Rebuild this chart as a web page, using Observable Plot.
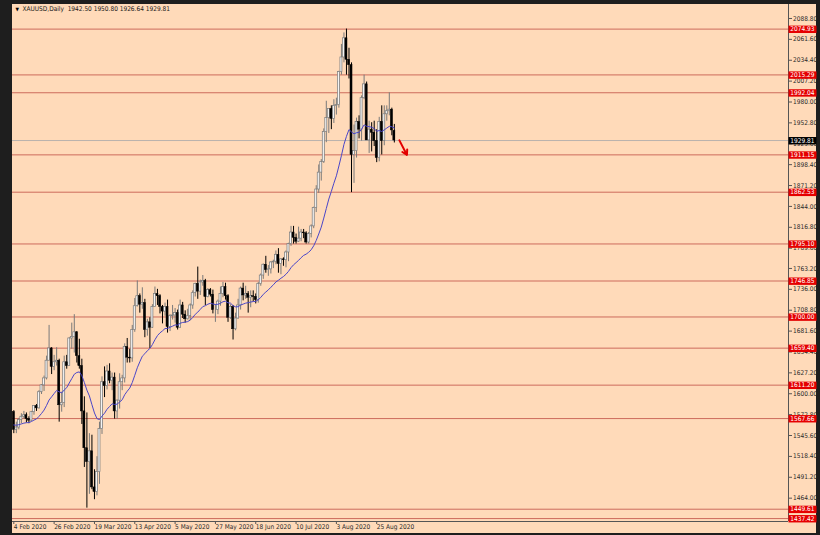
<!DOCTYPE html>
<html><head><meta charset="utf-8">
<script src="https://cdn.jsdelivr.net/npm/d3@7"></script>
<script src="https://cdn.jsdelivr.net/npm/@observablehq/plot@0.6"></script>
<style>
html,body{margin:0;padding:0;background:#1e1e1e;}
#wrap{position:relative;width:820px;height:535px;background:#1e1e1e;overflow:hidden;}
#chart{position:absolute;left:12px;top:4px;width:804px;height:529px;background:#ffdab9;}
#chart svg{display:block;}
</style></head><body>
<div id="wrap"><div id="chart"></div></div>
<script>
const symbol = "XAUUSD,Daily";
const dates = [
"2020-02-04","2020-02-05","2020-02-06","2020-02-07","2020-02-10","2020-02-11","2020-02-12","2020-02-13","2020-02-14","2020-02-17","2020-02-18","2020-02-19","2020-02-20","2020-02-21","2020-02-24","2020-02-25","2020-02-26","2020-02-27","2020-02-28",
"2020-03-02","2020-03-03","2020-03-04","2020-03-05","2020-03-06","2020-03-09","2020-03-10","2020-03-11","2020-03-12","2020-03-13","2020-03-16","2020-03-17","2020-03-18","2020-03-19","2020-03-20","2020-03-23","2020-03-24","2020-03-25","2020-03-26","2020-03-27","2020-03-30","2020-03-31",
"2020-04-01","2020-04-02","2020-04-03","2020-04-06","2020-04-07","2020-04-08","2020-04-09","2020-04-13","2020-04-14","2020-04-15","2020-04-16","2020-04-17","2020-04-20","2020-04-21","2020-04-22","2020-04-23","2020-04-24","2020-04-27","2020-04-28","2020-04-29","2020-04-30",
"2020-05-01","2020-05-04","2020-05-05","2020-05-06","2020-05-07","2020-05-08","2020-05-11","2020-05-12","2020-05-13","2020-05-14","2020-05-15","2020-05-18","2020-05-19","2020-05-20","2020-05-21","2020-05-22","2020-05-25","2020-05-26","2020-05-27","2020-05-28","2020-05-29",
"2020-06-01","2020-06-02","2020-06-03","2020-06-04","2020-06-05","2020-06-08","2020-06-09","2020-06-10","2020-06-11","2020-06-12","2020-06-15","2020-06-16","2020-06-17","2020-06-18","2020-06-19","2020-06-22","2020-06-23","2020-06-24","2020-06-25","2020-06-26","2020-06-29","2020-06-30",
"2020-07-01","2020-07-02","2020-07-03","2020-07-06","2020-07-07","2020-07-08","2020-07-09","2020-07-10","2020-07-13","2020-07-14","2020-07-15","2020-07-16","2020-07-17","2020-07-20","2020-07-21","2020-07-22","2020-07-23","2020-07-24","2020-07-27","2020-07-28","2020-07-29","2020-07-30","2020-07-31",
"2020-08-03","2020-08-04","2020-08-05","2020-08-06","2020-08-07","2020-08-10","2020-08-11","2020-08-12","2020-08-13","2020-08-14","2020-08-17","2020-08-18","2020-08-19","2020-08-20","2020-08-21","2020-08-24","2020-08-25","2020-08-26","2020-08-27","2020-08-28","2020-08-31",
"2020-09-01","2020-09-02","2020-09-03"];
const open = [
1576,1553,1556,1566,1570,1572,1567,1565,1576,1584,1581,1602,1611,1620,1643,1659,1635,1641,1643,
1585,1588,1641,1636,1672,1674,1680,1649,1636,1577,1529,1511,1525,1478,1472,1498,1554,1615,1610,1629,1617,1621,
1577,1591,1615,1620,1661,1647,1646,1683,1714,1727,1716,1718,1683,1693,1686,1713,1730,1727,1713,1707,1713,
1687,1701,1702,1705,1686,1715,1703,1697,1701,1715,1731,1743,1733,1745,1747,1726,1735,1729,1709,1709,1720,
1730,1739,1727,1699,1713,1684,1698,1715,1737,1728,1730,1725,1727,1726,1722,1743,1754,1768,1761,1762,1771,1772,
1781,1769,1775,1774,1784,1795,1810,1803,1798,1802,1810,1809,1797,1808,1818,1842,1866,1888,1902,1941,1959,1971,1958,
1975,1976,2019,2038,2063,2035,2028,1911,1916,1954,1944,1985,2003,1930,1944,1940,1929,1907,1954,1929,1964,
1968,1970,1942.50];
const high = [
1578,1563,1568,1574,1577,1575,1570,1577,1584,1586,1604,1612,1623,1649,1689,1660,1650,1660,1645,
1602,1649,1650,1673,1692,1703,1681,1671,1645,1596,1575,1548,1546,1501,1518,1563,1622,1635,1637,1639,1627,1627,
1592,1626,1624,1665,1672,1658,1689,1724,1747,1730,1738,1723,1697,1699,1716,1739,1736,1729,1715,1718,1722,
1703,1715,1711,1709,1722,1719,1708,1710,1717,1734,1744,1765,1748,1754,1749,1737,1737,1735,1716,1722,1739,
1745,1744,1729,1716,1715,1705,1723,1739,1744,1740,1733,1734,1734,1730,1745,1756,1769,1779,1767,1772,1774,1786,
1789,1776,1777,1786,1796,1818,1818,1808,1817,1814,1814,1811,1810,1820,1843,1871,1898,1905,1945,1981,1970,1975,1983,
1985,2020,2055,2070,2075,2050,2031,1950,1959,1962,1988,2015,2006,1955,1953,1955,1944,1960,1975,1975,1975,
1992,1972,1950.80];
const low = [
1548,1548,1553,1561,1567,1562,1561,1564,1572,1577,1580,1599,1603,1618,1643,1625,1630,1636,1563,
1576,1582,1632,1636,1658,1653,1640,1632,1560,1504,1451,1469,1475,1462,1467,1482,1547,1595,1605,1613,1604,1567,
1567,1580,1604,1614,1640,1640,1641,1680,1713,1705,1710,1673,1675,1659,1685,1713,1715,1704,1691,1701,1679,
1681,1696,1692,1683,1685,1698,1692,1696,1695,1710,1726,1723,1728,1740,1715,1725,1726,1704,1693,1703,1714,
1725,1722,1693,1697,1670,1682,1697,1709,1721,1723,1705,1712,1720,1717,1718,1740,1749,1757,1753,1756,1763,1768,
1757,1755,1766,1764,1772,1792,1795,1795,1797,1798,1802,1795,1795,1803,1815,1836,1861,1877,1900,1927,1939,1944,1952,
1963,1972,2015,2031,2015,2010,1862,1874,1907,1932,1929,1983,1930,1913,1915,1922,1901,1902,1911,1923,1955,
1962,1936,1926.64];
const close = [
1553,1556,1566,1570,1572,1567,1565,1576,1584,1581,1602,1611,1620,1643,1659,1635,1641,1643,1585,
1588,1641,1636,1672,1674,1680,1649,1636,1577,1529,1511,1525,1478,1472,1498,1554,1615,1610,1629,1617,1621,1577,
1591,1615,1620,1661,1647,1646,1683,1714,1727,1716,1718,1683,1693,1686,1713,1730,1727,1713,1707,1713,1687,
1701,1702,1705,1686,1715,1703,1697,1701,1715,1731,1743,1733,1745,1747,1726,1735,1729,1709,1709,1720,1730,
1739,1727,1699,1713,1684,1698,1715,1737,1728,1730,1725,1727,1726,1722,1743,1754,1768,1761,1762,1771,1772,1781,
1769,1775,1774,1784,1795,1810,1803,1798,1802,1810,1809,1797,1808,1818,1842,1866,1888,1902,1941,1959,1971,1958,1975,
1976,2019,2038,2063,2035,2028,1911,1916,1954,1944,1985,2003,1930,1944,1940,1929,1907,1954,1929,1964,1968,
1970,1943,1929.81];
// horizontal support / resistance levels
const levels = [2074.93, 2015.29, 1992.04, 1911.15, 1862.53, 1795.10, 1746.85, 1700.00, 1659.40, 1611.20, 1567.66, 1449.61, 1437.42];
// price scale tick labels
const priceTicks = [1464.00,1491.20,1518.40,1545.60,1572.80,1600.00,1627.20,1654.40,1681.60,1708.80,1736.00,1763.20,1789.60,1816.80,1844.00,1871.20,1898.40,1925.60,1952.80,1980.00,2007.20,2034.40,2061.60,2088.80];
const timeTickEvery = 16;
const emaPeriod = 20;
const emaSeed = 1560;
const arrowNote = [{x1: 153, y1: 1930, x2: 156, y2: 1911}];

const n = dates.length, last = n - 1;
const rows = dates.map((d, i) => ({i, date: d, o: open[i], h: high[i], l: low[i], c: close[i]}));
const bull = rows.filter(d => d.c >= d.o), bear = rows.filter(d => d.c < d.o);
const fmtDate = d3.utcFormat("%-d %b %Y");
const timeTicks = d3.range(0, n, timeTickEvery);
const xDomain = [-0.52, 307.4];
const yDomain = [1433.6, 2107.0];
const FONT = "'Liberation Sans Narrow','DejaVu Sans Condensed','Liberation Sans',sans-serif";
const ema = {mapIndex(I, S, T) { let e = emaSeed; const a = 2 / (emaPeriod + 1); for (const i of I) { e = e + (S[i] - e) * a; T[i] = e; } }};
const header = `${symbol}  ${open[last].toFixed(2)} ${high[last].toFixed(2)} ${low[last].toFixed(2)} ${close[last].toFixed(2)}`;

const chart = Plot.plot({
  width: 804, height: 529,
  marginLeft: 0, marginRight: 28, marginTop: 0, marginBottom: 12,
  style: {background: "transparent", fontFamily: FONT, fontSize: "6.5px", color: "#2a2a2a", overflow: "visible"},
  x: {type: "linear", domain: xDomain, axis: null},
  y: {type: "linear", domain: yDomain, axis: null},
  marks: [
    Plot.ruleY(levels, {stroke: "#cd6b5c", strokeWidth: 1}),
    Plot.ruleY([close[last]], {stroke: "#b9b2ad", strokeWidth: 1}),
    Plot.ruleX(bull, {x: "i", y1: "l", y2: "h", stroke: "#7a7a7a", strokeWidth: 1}),
    Plot.ruleX(bear, {x: "i", y1: "l", y2: "h", stroke: "#000", strokeWidth: 1}),
    Plot.rect(bull, {x1: d => d.i - 0.4, x2: d => d.i + 0.4, y1: "o", y2: "c", fill: "#f4f4f4", stroke: "#7a7a7a", strokeWidth: 0.7}),
    Plot.rect(bear, {x1: d => d.i - 0.4, x2: d => d.i + 0.4, y1: "o", y2: "c", fill: "#000", stroke: "#000", strokeWidth: 0.5}),
    Plot.line(rows, Plot.mapY(ema, {x: "i", y: "c", stroke: "#4a46c8", strokeWidth: 1})),
    Plot.arrow(arrowNote, {x1: "x1", y1: "y1", x2: "x2", y2: "y2", stroke: "#e30000", strokeWidth: 2, headLength: 5, bend: 0}),
    Plot.ruleX([xDomain[1]], {stroke: "#555", strokeWidth: 1}),
    Plot.ruleY([yDomain[0]], {stroke: "#555", strokeWidth: 1}),
    Plot.axisY(priceTicks, {anchor: "right", tickSize: 3, tickPadding: 1.5, tickFormat: d => d.toFixed(2), stroke: "#555", fill: "#2a2a2a", fontSize: 6.5}),
    Plot.axisX(timeTicks, {anchor: "bottom", tickSize: 3, tickPadding: 0, tickFormat: i => fmtDate(new Date(dates[i])), textAnchor: "start", stroke: "#555", fill: "#2a2a2a", fontSize: 6.5, dx: 0}),
    Plot.text(levels, {y: d => d, text: d => d.toFixed(2), frameAnchor: "right", textAnchor: "start", dx: 1.8, fill: "#fff", fontSize: 6.5, className: "lvl-red"}),
    Plot.text([close[last]], {y: d => d, text: d => d.toFixed(2), frameAnchor: "right", textAnchor: "start", dx: 1.8, fill: "#fff", fontSize: 6.5, className: "lvl-black"}),
    Plot.text(["\u25BC"], {frameAnchor: "top-left", dx: 3, dy: 3, fontSize: 5, fill: "#000", textAnchor: "start", lineAnchor: "top"}),
    Plot.text([header], {frameAnchor: "top-left", dx: 10, dy: 2, fontSize: 6.5, fill: "#1a1a1a", textAnchor: "start", lineAnchor: "top"})
  ]
});
document.getElementById("chart").appendChild(chart);

// price-label boxes behind the level texts
function boxes(cls, color) {
  d3.select(chart).selectAll(`g.${cls} text`).each(function() {
    const b = this.getBBox();
    const cy = b.y + b.height / 2;
    const r = d3.select(this.parentNode).insert("rect", () => this)
      .attr("x", b.x - 1.8).attr("y", cy - 3.6).attr("width", 28).attr("height", 7.4).attr("fill", color);
    const t = this.getAttribute("transform");
    if (t) r.attr("transform", t);
  });
}
boxes("lvl-red", "#e50000");
boxes("lvl-black", "#000");
</script>
</body></html>
